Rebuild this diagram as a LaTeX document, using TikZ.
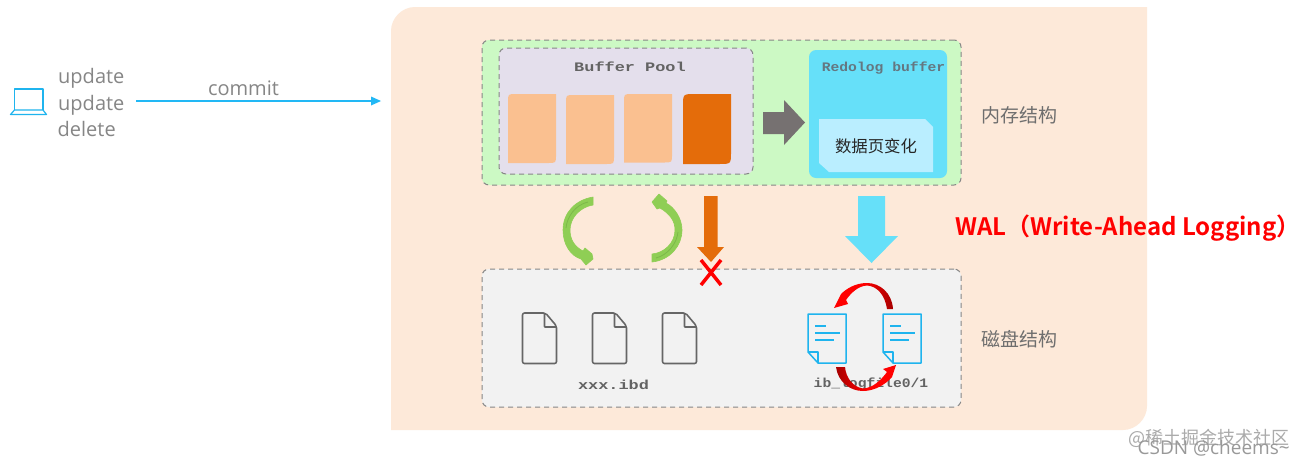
\documentclass[tikz,border=0pt]{standalone}
\usepackage{fontspec}
\setmainfont{Open Sans}
\newfontfamily\cjk{Noto Sans CJK SC}
\newfontfamily\cjkb[Scale=1]{Noto Sans CJK SC Bold}
\newfontfamily\wmono[FakeStretch=1.3,FakeBold=0]{Liberation Mono Bold}
\newfontfamily\nmono[FakeStretch=1.13,FakeBold=0]{Liberation Mono Bold}
\definecolor{peach}{HTML}{FDE9D9}
\definecolor{memgreen}{HTML}{CCF9C4}
\definecolor{poolbg}{HTML}{E4DFEC}
\definecolor{redoblue}{HTML}{66E0F9}
\definecolor{innerblue}{HTML}{BAEEFF}
\definecolor{pagelight}{HTML}{FAC090}
\definecolor{pagedark}{HTML}{E46C0A}
\definecolor{arrowgray}{HTML}{767171}
\definecolor{diskbg}{HTML}{F2F2F2}
\definecolor{linkblue}{HTML}{22B8F5}
\definecolor{docblue}{HTML}{1FB4EE}
\definecolor{leaf}{HTML}{8FCE55}
\definecolor{leafdark}{HTML}{7DB84A}
\definecolor{labelgray}{HTML}{6E6E6E}
\tikzset{
  dashbox/.style={draw=gray!95,line width=1pt,dash pattern=on 5pt off 4pt,rounded corners=7pt},
  sidelabel/.style={font=\cjk\fontsize{19}{19}\selectfont,text=labelgray,inner sep=0pt},
  oplabel/.style={font=\fontsize{20}{20}\selectfont,text=gray!95,inner sep=0pt,anchor=base west},
  monotitle/.style={text=labelgray!90!black,inner sep=0pt},
  grayfile/.style={draw=black!60,line width=1.6pt,rounded corners=2pt,line join=round},
  bluedoc/.style={draw=docblue,line width=1.5pt,line join=round},
}
\newcommand{\grayfileat}[1]{%
  \begin{scope}[shift={(#1,313)}]
    \draw[grayfile] (0,0) -- (23,0) -- (34,13) -- (34,50.5) -- (0,50.5) -- cycle;
    \draw[grayfile,rounded corners=0.5pt] (22,0.5) -- (22,14) -- (34,14);
  \end{scope}}
\newcommand{\bluedocat}[1]{%
  \begin{scope}[shift={(#1,314)}]
    \draw[bluedoc] (0,0) -- (38,0) -- (38,49) -- (10,49) -- (0,38) -- cycle;
    \draw[bluedoc] (0,38) -- (10,38) -- (10,49);
    \draw[docblue,line width=1.6pt] (7,12) -- (18,12) (7,19) -- (32,19) (7,26) -- (26,26);
  \end{scope}}
% page block: x, top, bottom, corner radius, colour
\newcommand{\pageblock}[5]{%
  \fill[#5] (#1,#3) -- (#1,#2+#4) .. controls (#1,#2) .. (#1+#4,#2) -- (#1+48,#2)
    -- (#1+48,#3-#4) .. controls (#1+48,#3) .. (#1+48-#4,#3) -- cycle;}
\begin{document}
\begin{tikzpicture}[x=1pt,y=-1pt]
\useasboundingbox (0,0) rectangle (1305,464);
\fill[white] (0,0) rectangle (1305,464);
% background panel
\fill[peach] (391,430) -- (391,31) .. controls (391,18) and (402,7) .. (415,7) -- (1147,7) -- (1147,406) .. controls (1147,419) and (1136,430) .. (1123,430) -- cycle;
% memory box
\node[dashbox,fill=memgreen,minimum width=479pt,minimum height=145pt,inner sep=0pt] (mem) at (721.5,112.5) {};
\node[dashbox,fill=poolbg,minimum width=254pt,minimum height=126pt,inner sep=0pt] (pool) at (626,111) {};
\node[font=\wmono\fontsize{13}{13}\selectfont,monotitle] (pooltitle) at (630,67) {Buffer Pool};
\pageblock{508}{94}{163}{8}{pagelight}
\pageblock{566}{95}{164}{8}{pagelight}
\pageblock{624}{94}{162.5}{8}{pagelight}
\pageblock{683}{94}{164}{12}{pagedark}
% gray arrow
\fill[arrowgray] (763,112) -- (784,112) -- (784,100) -- (805,122.5) -- (784,145) -- (784,134) -- (763,134) -- cycle;
% redo buffer
\node[fill=redoblue,rounded corners=7pt,minimum width=138pt,minimum height=128pt,inner sep=0pt] (redo) at (878,114) {};
\node[font=\nmono\fontsize{13}{13}\selectfont,text=black!60!cyan!60!gray] (redotitle) at (883.5,68) {Redolog buffer};
\fill[innerblue] (819,119) -- (925,119) -- (933,127) -- (933,172) -- (829,172) -- (819,163) -- cycle;
\node[font=\cjk\fontsize{16.4}{16.4}\selectfont,text=black!85,inner sep=0pt] (change) at (876,146) {数据页变化};
\node[sidelabel] (memlabel) at (1019.5,115) {内存结构};
% disk box
\node[dashbox,fill=diskbg,minimum width=479pt,minimum height=138pt,inner sep=0pt] (disk) at (721.5,338) {};
\node[sidelabel] (disklabel) at (1019.5,339) {磁盘结构};
% green loop arrows
\fill[leaf,draw=leaf,line width=0.6pt,line join=round] (593,197) .. controls (575,200) and (563,213) .. (563,230) .. controls (563,245) and (571,256) .. (581,259) -- (586,265) -- (593,259) -- (592,254) -- (585,248) -- (583,251) .. controls (575,247) and (570,240) .. (570,230) .. controls (570,218) and (580,207) .. (593,205) -- cycle;
\fill[leaf,draw=leaf,line width=0.6pt,line join=round] (652,262) .. controls (670,260) and (682,246) .. (682,230) .. controls (682,218) and (674,207) .. (666,203) -- (667,201) -- (659,194) -- (652,202) -- (657,209) -- (660,208) .. controls (670,214) and (675,221) .. (675,230) .. controls (675,243) and (664,253) .. (652,254) -- cycle;
\draw[leafdark,line width=0.8pt] (588,202) .. controls (575,205) and (567,217) .. (566,228);
\draw[leafdark,line width=0.8pt] (656,258) .. controls (668,255) and (677,243) .. (678,232);
% orange arrow
\fill[pagedark] (704,196) -- (717.5,196) -- (717.5,247) -- (724,247) -- (711,262) -- (697,247) -- (704,247) -- cycle;
% blue arrow
\fill[redoblue] (858,196) -- (885,196) -- (885,236) -- (898,236) -- (871.5,263) -- (845,236) -- (858,236) -- cycle;
% red cross
\draw[red,line width=3.5pt] (701,260) -- (721,285) (721,260) -- (701,285);
% gray files
\grayfileat{522.5}
\grayfileat{592.5}
\grayfileat{662.5}
\node[font=\wmono\fontsize{13}{13}\selectfont,monotitle] (ibd) at (613.5,385) {xxx.ibd};
% blue docs
\bluedocat{808}
\bluedocat{883}
\node[font=\nmono\fontsize{13}{13}\selectfont,monotitle] (logfile) at (871,384) {ib\_logfile0/1};
% red cycle arrows
\shade[left color=red,right color=red!65!black,middle color=red]
  (893,309) .. controls (892,293) and (880,283) .. (867,283) .. controls (855,283) and (846,289) .. (841,294) -- (834,308) -- (848,304) -- (846,300) .. controls (851,293) and (858,286) .. (867,285.5) .. controls (877,286) and (885,295) .. (887,309) -- cycle;
\shade[left color=red!65!black,right color=red,middle color=red]
  (836,367) .. controls (838,382) and (850,391) .. (863,391) .. controls (875,391) and (886,384) .. (892,377) -- (896,365) -- (883,369) -- (887,372) .. controls (881,380) and (873,388) .. (863,388.5) .. controls (853,387) and (846,378) .. (845,367) -- cycle;
% client
\draw[docblue,line width=1.2pt,line join=round] (14.5,110) -- (14.5,89) -- (43,89) -- (43,110);
\draw[docblue,line width=1.2pt,line join=round] (14.5,110) -- (43,110) -- (46.5,114.5) -- (10.5,114.5) -- cycle;
\node[oplabel] (op1) at (58,83) {update};
\node[oplabel] (op2) at (58,110) {update};
\node[oplabel] (op3) at (57.5,136) {delete};
\coordinate (cstart) at (136,101);
\coordinate (cend) at (381,101);
\draw[linkblue,line width=1.6pt] (cstart) -- (372,101);
\fill[linkblue] (cend) -- (371,96.5) -- (371,105.5) -- cycle;
\node[oplabel,anchor=base] (commit) at (243.5,95.5) {commit};
% WAL label
\node[font=\cjkb\fontsize{24}{24}\selectfont,text=red,inner sep=0pt,anchor=west] (wal) at (955,228) {WAL（Write-Ahead Logging）};
% watermarks
\node[font=\cjk\fontsize{18}{18}\selectfont,text=black!33,inner sep=0pt,anchor=east] (wm1) at (1290,438) {@稀土掘金技术社区};
\node[font=\fontsize{19}{19}\selectfont,text=black!40,inner sep=0pt,anchor=east] (wm2) at (1290,448) {CSDN @cheems\textasciitilde};
\end{tikzpicture}
\end{document}
